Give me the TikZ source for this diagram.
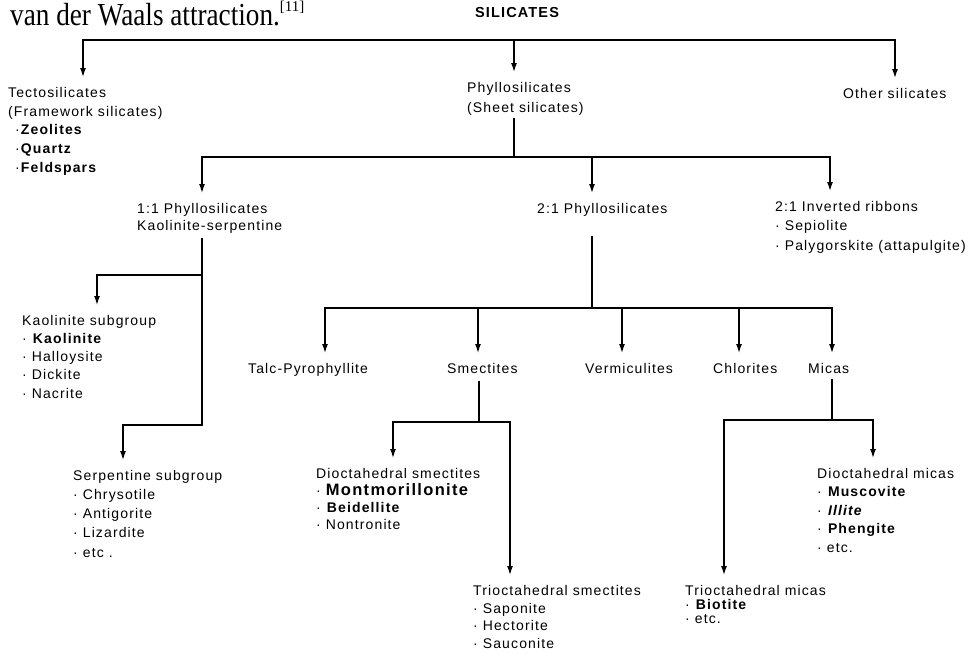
\documentclass[tikz,border=0pt]{standalone}
\usepackage{fontspec}
\setmainfont{Liberation Sans}[LetterSpace=8]
\newfontfamily\headserif{Liberation Serif}
\usetikzlibrary{arrows.meta}
\tikzset{
  grp/.style={anchor=north west, align=left, inner sep=0pt,
    font=\fontsize{14}{#1}\selectfont},
  grp/.default=18.7,
  bus/.style={line width=1.3pt, black},
  stem/.style={bus, shorten <=#1},
  stem/.default=4pt,
  arr/.style={bus, -{Latex[length=9pt, width=6pt]}, shorten >=10pt},
}

\begin{document}
\begin{tikzpicture}[x=1pt, y=-1pt]
\useasboundingbox (0,0) rectangle (972,653);

%% running text above the figure
\node[anchor=base west, inner sep=0pt] (txt) at (10,25)
  {\headserif\fontsize{32}{32}\selectfont\scalebox{0.85}[1]{van der Waals attraction.}%
   \raisebox{14pt}{\fontsize{15}{15}\selectfont[11]}};

%%==========================================================================
%% TOP LEVEL
%%==========================================================================
\node[anchor=base, inner sep=0pt, font=\fontsize{14.5}{15}\selectfont\bfseries]
  (sil) at (517,17.5) {SILICATES};

\node[grp] (tecto) at (8,87)
  {Tectosilicates\\
   (Framework silicates)\\
   \hspace{7pt}·\textbf{Zeolites}\\
   \hspace{7pt}·\textbf{Quartz}\\
   \hspace{7pt}·\textbf{Feldspars}};
\node[grp=20] (phyllo) at (467,82) {Phyllosilicates\\(Sheet silicates)};
\node[grp] (other) at (843,88) {Other silicates};

\coordinate (b1-l) at (83,40);
\coordinate (b1-m) at (514,40);
\coordinate (b1-r) at (895,40);
\draw[arr] (b1-m) -| (b1-l |- tecto.north);
\draw[arr] (b1-m) -| (b1-r |- other.north);
\draw[arr] (b1-m) -- (b1-m |- phyllo.north);

%%==========================================================================
%% PHYLLOSILICATES
%%==========================================================================
\node[grp=17] (p11) at (137,203) {1:1 Phyllosilicates\\Kaolinite-serpentine};
\node[grp] (p21) at (537,203) {2:1 Phyllosilicates};
\node[grp=19.5] (ribbon) at (775,201)
  {2:1 Inverted ribbons\\· Sepiolite\\· Palygorskite (attapulgite)};

\coordinate (b2-m) at (514,157);
\coordinate (b2-l) at (202,157);
\coordinate (b2-c) at (592,157);
\coordinate (b2-r) at (830,157);
\draw[stem=3pt] (b1-m |- phyllo.south) -- (b2-m);
\draw[arr] (b2-m) -| (b2-l |- p11.north);
\draw[arr] (b2-m) -| (b2-r |- ribbon.north);
\draw[arr] (b2-c) -- (b2-c |- p21.north);

%% 1:1 -- kaolinite and serpentine subgroups
\node[grp=18.2] (kaol) at (22,315)
  {Kaolinite subgroup\\· \textbf{Kaolinite}\\· Halloysite\\· Dickite\\· Nacrite};
\node[grp=19.2] (serp) at (73,470)
  {Serpentine subgroup\\· Chrysotile\\· Antigorite\\· Lizardite\\· etc .};

\coordinate (k-j) at (202,275);
\coordinate (k-d) at (97,275);
\coordinate (s-j) at (202,425);
\coordinate (s-d) at (123,425);
\draw[arr, shorten <=5pt] (s-j |- p11.south) -- (s-j) -| (s-d |- serp.north);
\draw[arr] (k-j) -| (k-d |- kaol.north);

%% 2:1 -- the five groups
\node[grp] (talc)   at (248,363) {Talc-Pyrophyllite};
\node[grp] (smect)  at (447,363) {Smectites};
\node[grp] (verm)   at (585,363) {Vermiculites};
\node[grp] (chlor)  at (713,363) {Chlorites};
\node[grp] (micas)  at (808,363) {Micas};

\coordinate (b3-m) at (592,308);
\coordinate (b3-l) at (325,308);
\coordinate (b3-s) at (478,308);
\coordinate (b3-v) at (622,308);
\coordinate (b3-c) at (739,308);
\coordinate (b3-r) at (832,308);
\draw[stem=20pt] (b3-m |- p21.south) -- (b3-m);
\draw[arr] (b3-m) -| (b3-l |- talc.north);
\draw[arr] (b3-m) -| (b3-r |- micas.north);
\draw[arr] (b3-s) -- (b3-s |- smect.north);
\draw[arr] (b3-v) -- (b3-v |- verm.north);
\draw[arr] (b3-c) -- (b3-c |- chlor.north);

%%==========================================================================
%% SMECTITES AND MICAS
%%==========================================================================
\node[grp=17] (dsmect) at (316,468)
  {Dioctahedral smectites\\
   · {\fontsize{16.5}{17}\selectfont\bfseries Montmorillonite}\\
   · \textbf{Beidellite}\\
   · Nontronite};
\node[grp=17.8] (tsmect) at (473,585)
  {Trioctahedral smectites\\· Saponite\\· Hectorite\\· Sauconite};
\node[grp=18.5] (dmicas) at (817,468)
  {Dioctahedral micas\\· \textbf{Muscovite}\\· \textbf{\textit{Illite}}\\
   · \textbf{Phengite}\\· etc.};
\node[grp=14] (tmicas) at (685,585)
  {Trioctahedral micas\\· \textbf{Biotite}\\· etc.};

\coordinate (sm-j) at (479,422);
\coordinate (sm-l) at (393,422);
\coordinate (sm-r) at (510,422);
\draw[stem=7pt] (sm-j |- smect.south) -- (sm-j);
\draw[arr] (sm-j) -| (sm-l |- dsmect.north);
\draw[arr] (sm-j) -| (sm-r |- tsmect.north);

\coordinate (mi-j) at (832,420);
\coordinate (mi-l) at (724,420);
\coordinate (mi-r) at (873,420);
\draw[stem=5pt] (mi-j |- micas.south) -- (mi-j);
\draw[arr] (mi-j) -| (mi-l |- tmicas.north);
\draw[arr] (mi-j) -| (mi-r |- dmicas.north);

\end{tikzpicture}
\end{document}
